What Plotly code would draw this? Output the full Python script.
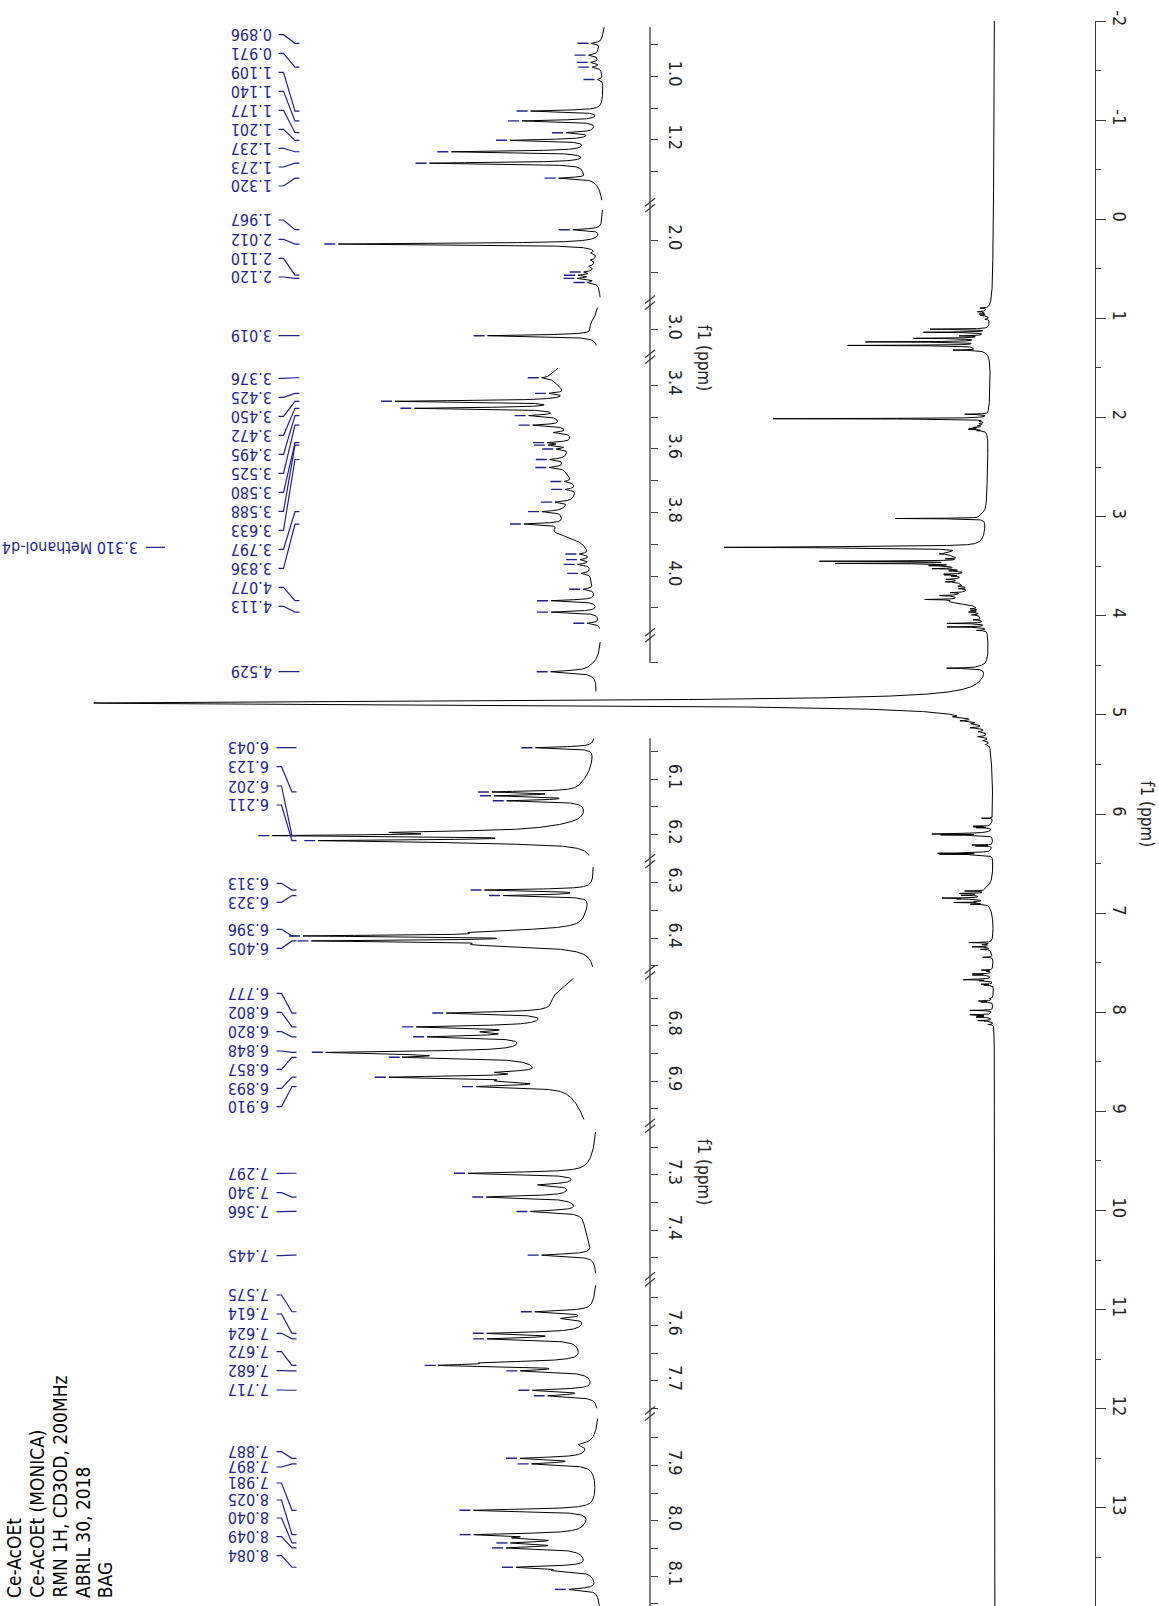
import numpy as np
import plotly.graph_objects as go

# ============================ DATA ============================
# sharp resonances: chemical shift (ppm), height (a.u.), half width at half height (ppm)
SHARP_PPM = [0.896, 0.933, 0.956, 0.971, 1.010, 1.109, 1.140, 1.177, 1.201, 1.237, 1.273, 1.320,
             1.967, 2.012, 2.040, 2.062, 2.082, 2.100, 2.110, 2.120, 2.133,
             3.019,
             3.294, 3.302, 3.310, 3.318, 3.326,
             3.376, 3.425, 3.450, 3.472, 3.495, 3.525, 3.548, 3.580, 3.588, 3.600, 3.633, 3.658,
             3.702, 3.727, 3.767, 3.797, 3.836, 3.930, 3.948, 3.963, 3.991, 4.041, 4.077, 4.113, 4.148,
             4.529, 4.880,
             5.020, 5.060, 5.090, 5.130, 5.170, 5.220, 5.260, 5.300,
             6.043, 6.123, 6.130, 6.139, 6.196, 6.202, 6.211, 6.215,
             6.313, 6.323, 6.389, 6.396, 6.405, 6.412,
             6.777, 6.802, 6.811, 6.820, 6.848, 6.852, 6.857, 6.884, 6.893, 6.900, 6.910,
             7.297, 7.318, 7.340, 7.366, 7.445,
             7.575, 7.587, 7.614, 7.624, 7.667, 7.672, 7.682, 7.717, 7.727,
             7.862, 7.887, 7.897, 7.981, 8.025, 8.031, 8.040, 8.049, 8.084, 8.090, 8.124]
SHARP_HEIGHT = [9, 9, 8, 8, 5, 70, 76, 26, 78, 135, 158, 32,
                28, 262, 5, 5, 5, 9, 15, 17, 9,
                108,
                20, 95, 265, 95, 20,
                10, 15, 170, 146, 28, 30, 15, 22, 20, 12, 14, 14,
                8, 10, 15, 20, 38, 9, 9, 12, 9, 10, 45, 47, 12,
                40, 1100,
                14, 18, 10, 16, 9, 12, 7, 5,
                13.5, 19.0, 18.3, 16.7, 34.7, 60.5, 50.8, 20.8,
                24.3, 19.6, 23.1, 55.0, 53.2, 23.1,
                24.0, 27.5, 9.2, 22.6, 41.6, 11.6, 24.3, 9.2, 36.0, 9.2, 19.0,
                26.6, 8.1, 20.0, 11.6, 12.0,
                12.7, 5.8, 20.8, 20.3, 18.5, 29.0, 13.9, 13.9, 10.4,
                2.8, 15.0, 12.7, 27.5, 23.1, 11.6, 13.9, 16.2, 16.2, 6.9, 6.5]
SHARP_HALFWIDTH = ([0.003] * 22 + [0.004] * 5 + [0.003] * 25 + [0.004, 0.025] + [0.006] * 8 +
                   [0.0018, 0.0018, 0.0018, 0.0018, 0.003, 0.0018, 0.0018, 0.003] +
                   [0.0018, 0.0018, 0.005, 0.0018, 0.0018, 0.005] +
                   [0.0025] * 11 + [0.0025] * 5 +
                   [0.0025, 0.0025, 0.0025, 0.0025, 0.003, 0.0025, 0.0025, 0.0025, 0.0025] +
                   [0.004] + [0.0025] * 10)

# broad underlying humps
BROAD_PPM = [0.93, 1.22, 1.30, 2.09, 2.985, 3.36, 3.38, 3.50, 3.65, 3.80, 3.86, 4.00, 4.52, 2.90,
             6.12, 6.19, 6.36, 6.745, 6.84, 7.33, 7.40, 7.63, 7.88, 8.04]
BROAD_HEIGHT = [8, 16, 14, 8, 8, 12, 30, 30, 30, 28, 30, 8, 10, 9,
                3.5, 8.1, 1.8, 4.6, 16.2, 5.8, 1.8, 4.6, 2.8, 4.6]
BROAD_HALFWIDTH = [0.05, 0.06, 0.03, 0.05, 0.03, 0.03, 0.05, 0.06, 0.07, 0.05, 0.025, 0.08, 0.025, 1.5,
                   0.03, 0.012, 0.04, 0.03, 0.07, 0.04, 0.04, 0.05, 0.03, 0.05]

# picked peaks printed as blue labels
LABEL_PPM_ALIPHATIC = [0.896, 0.971, 1.109, 1.140, 1.177, 1.201, 1.237, 1.273, 1.320,
                       1.967, 2.012, 2.110, 2.120, 3.019,
                       3.376, 3.425, 3.450, 3.472, 3.495, 3.525, 3.580, 3.588, 3.633, 3.797, 3.836,
                       4.077, 4.113, 4.529]
LABEL_PPM_AROMATIC = [6.043, 6.123, 6.202, 6.211, 6.313, 6.323, 6.396, 6.405,
                      6.777, 6.802, 6.820, 6.848, 6.857, 6.893, 6.910,
                      7.297, 7.340, 7.366, 7.445,
                      7.575, 7.614, 7.624, 7.672, 7.682, 7.717,
                      7.887, 7.897, 7.981, 8.025, 8.040, 8.049, 8.084]
# picked peaks that only carry a tick mark
MARK_ONLY_PPM = [0.933, 0.956, 1.010, 2.100, 2.133, 3.600, 3.658, 3.702, 3.727, 3.767,
                 3.930, 3.948, 3.963, 3.991, 4.041, 4.148, 6.130, 6.139, 7.727, 8.124]

SOLVENT_PPM = 3.310
SOLVENT_NAME = "Methanol-d4"
MAIN_TICKS = list(range(-2, 14))
TITLE_LINES = ["Ce-AcOEt", "Ce-AcOEt (MONICA)", "RMN 1H, CD3OD, 200MHz", "ABRIL 30, 2018", "BAG"]
AXIS_TITLE = "f1 (ppm)"

# ============================ LAYOUT (positions, styles) ============================
W, H = 1159, 1606
def px(x):
    return x / W
def py(y):
    return 1 - y / H

BLACK = "black"
BLUE = "#1f1f8f"
AXC = "#3a3a3a"
AX_FONT = "Liberation Sans Narrow, Arial Narrow, DejaVu Sans Condensed, sans-serif"
LB_FONT = "DejaVu Sans Condensed, DejaVu Sans, sans-serif"

MAIN_AXIS_PX = 1095
MAIN_ZERO_PX = 995
MAIN_PX_PER_U = 0.8165
INSET_AXIS_PX = 650

S_A = 318.0     # px per ppm, aliphatic inset
S_B = 553.0     # px per ppm, aromatic inset
A_ZERO_PX, A_PX_PER_U = 610.0, 1.0
B_ZERO_PX, B_PX_PER_U = 607.0, 4.327
A_AXIS_END_PX = 663.0

SEG_A = [(0.845, 1.390, 27.1), (1.905, 2.180, 210.0), (2.930, 3.050, 307.4),
         (3.345, 4.165, 367.9), (4.435, 4.592, 641.8)]
SEG_B = [(6.026, 6.238, 738.3), (6.271, 6.452, 866.8), (6.714, 6.970, 978.2),
         (7.222, 7.478, 1131.8), (7.527, 7.750, 1285.2), (7.815, 8.154, 1418.5)]

LABEL_Y_ALI_PX = [34.7, 53.3, 72.3, 91.3, 110.3, 129.3, 148.3, 167.0, 186.0,
                  220.0, 239.3, 258.3, 277.0, 335.7,
                  378.3, 397.3, 416.3, 435.3, 454.3, 473.3, 492.3, 511.3, 530.3, 549.3, 568.3,
                  587.3, 606.3, 671.7]
LABEL_Y_ARO_PX = [747.7, 766.7, 786.0, 805.0, 883.3, 902.3, 929.3, 948.3,
                  993.3, 1012.3, 1031.7, 1051.0, 1069.3, 1088.3, 1106.7,
                  1173.3, 1192.7, 1211.7, 1255.7,
                  1295.0, 1314.0, 1333.3, 1351.7, 1370.7, 1390.0,
                  1451.7, 1467.0, 1483.0, 1500.0, 1518.0, 1536.7, 1555.7]

# ============================ MODEL ============================
PPM = np.array(SHARP_PPM + BROAD_PPM, float)
AMP = np.array(SHARP_HEIGHT + BROAD_HEIGHT, float)
HWID = np.array(SHARP_HALFWIDTH + BROAD_HALFWIDTH, float)
assert len(PPM) == len(AMP) == len(HWID)


def spectrum(d):
    d = np.asarray(d, float)
    out = np.zeros_like(d)
    for p, a, w in zip(PPM, AMP, HWID):
        out += a * w * w / ((d - p) ** 2 + w * w)
    return out


def grid(lo, hi, step):
    g = np.arange(lo, hi + step / 2, step)
    extra = PPM[(PPM > lo) & (PPM < hi)]
    return np.unique(np.concatenate([g, extra]))


fig = go.Figure()
lay = {}
shapes = []
annotations = []

# ---------------- main spectrum ----------------
d_main = grid(-2.0, 13.99, 0.0005)
fig.add_trace(go.Scatter(x=spectrum(d_main), y=d_main, mode="lines",
                         line=dict(color=BLACK, width=1), xaxis="x", yaxis="y",
                         hoverinfo="skip", showlegend=False))
lay["xaxis"] = dict(domain=[0, px(MAIN_AXIS_PX)],
                    range=[MAIN_ZERO_PX / MAIN_PX_PER_U, -(MAIN_AXIS_PX - MAIN_ZERO_PX) / MAIN_PX_PER_U],
                    visible=False, anchor="y", automargin=False)
lay["yaxis"] = dict(domain=[0, py(21)], range=[13.99, -2], anchor="x", side="right",
                    showline=True, linecolor=AXC, linewidth=1.3, mirror=False, automargin=False,
                    tickmode="array", tickvals=MAIN_TICKS, ticktext=[str(t) for t in MAIN_TICKS],
                    ticks="outside", ticklen=10,
                    tickwidth=1.2, tickcolor=AXC, tickangle=90,
                    tickfont=dict(family=AX_FONT, size=18, color="#222"),
                    minor=dict(dtick=0.5, tick0=0, ticks="outside", ticklen=5, tickwidth=1.2, tickcolor=AXC),
                    showgrid=False, zeroline=False)
annotations.append(dict(x=px(1147), y=6.0, xref="paper", yref="y", text=AXIS_TITLE,
                        textangle=90, showarrow=False, xanchor="center", yanchor="middle",
                        font=dict(family=AX_FONT, size=17, color="#222")))

# ---------------- insets ----------------
all_marks = sorted(set(LABEL_PPM_ALIPHATIC + LABEL_PPM_AROMATIC + MARK_ONLY_PPM))


def build_inset(segs, s_px, zero_px, px_per_u, xname, y0idx, dtick, mdtick,
                labels, label_y, lab_right, conn_x, axis_end=None):
    xkey = "xaxis" + xname[1:]
    lay[xkey] = dict(domain=[0, px(INSET_AXIS_PX)],
                     range=[zero_px / px_per_u, -(INSET_AXIS_PX - zero_px) / px_per_u],
                     visible=False, anchor="free", position=0, automargin=False)
    seg_of = {}
    for k, (lo, hi, top) in enumerate(segs):
        yi = y0idx + k
        yname = "y%d" % yi
        bottom = top + (hi - lo) * s_px
        d = grid(lo, hi, 0.0002)
        fig.add_trace(go.Scatter(x=spectrum(d), y=d, mode="lines",
                                 line=dict(color=BLACK, width=1), xaxis=xname, yaxis=yname,
                                 hoverinfo="skip", showlegend=False))
        lay["yaxis%d" % yi] = dict(domain=[max(0.0, py(bottom)), py(top)], range=[hi, lo],
                                   anchor="free", position=px(INSET_AXIS_PX), side="right",
                                   showline=False, automargin=False,
                                   tickmode="linear", tick0=0, dtick=dtick,
                                   tickformat=".1f", ticks="outside", ticklen=7, tickwidth=1.2,
                                   tickcolor=AXC, tickangle=90, ticklabelstandoff=4,
                                   tickfont=dict(family=AX_FONT, size=18, color="#222"),
                                   minor=dict(dtick=mdtick, tick0=0, ticks="outside", ticklen=7,
                                              tickwidth=1.2, tickcolor=AXC),
                                   showgrid=False, zeroline=False)
        # tick marks next to peak tops
        mk = [p for p in all_marks if lo < p < hi]
        xs, ys = [], []
        if mk:
            tips = spectrum(mk)
            for p, t in zip(mk, tips):
                xs += [t + 3 / px_per_u, t + 14 / px_per_u, None]
                ys += [p, p, None]
            fig.add_trace(go.Scatter(x=xs, y=ys, mode="lines", line=dict(color=BLUE, width=1.4),
                                     xaxis=xname, yaxis=yname, hoverinfo="skip", showlegend=False))
        for p in labels:
            if lo <= p <= hi:
                seg_of[p] = (yname, lo, top)
    # labels + connectors
    for p, ly in zip(labels, label_y):
        yname, lo, top = seg_of[p]
        lp = lo + (ly - top) / s_px
        x0, x1, x2, x3 = [px(v) for v in conn_x]
        path = "M %.6f,%.6f L %.6f,%.6f L %.6f,%.6f L %.6f,%.6f" % (x0, lp, x1, lp, x2, p, x3, p)
        shapes.append(dict(type="path", path=path, xref="paper", yref=yname,
                           line=dict(color=BLUE, width=1.2)))
        annotations.append(dict(x=px(lab_right), y=py(ly), xref="paper", yref="paper",
                                text="%.3f" % p, textangle=180, showarrow=False,
                                xanchor="right", yanchor="middle",
                                font=dict(family=LB_FONT, size=16, color=BLUE)))
    # axis line and break marks
    first_top = segs[0][2]
    last_bottom = min(H, segs[-1][2] + (segs[-1][1] - segs[-1][0]) * s_px)
    if axis_end is not None:
        last_bottom = axis_end
    shapes.append(dict(type="line", xref="paper", yref="paper",
                       x0=px(INSET_AXIS_PX), x1=px(INSET_AXIS_PX),
                       y0=py(first_top), y1=py(last_bottom), line=dict(color=AXC, width=1.3)))
    for a, b in zip(segs[:-1], segs[1:]):
        yb = 0.5 * (a[2] + (a[1] - a[0]) * s_px + b[2])
        for off in (-3, 3):
            shapes.append(dict(type="line", xref="paper", yref="paper",
                               x0=px(INSET_AXIS_PX - 5), y0=py(yb + off + 4),
                               x1=px(INSET_AXIS_PX + 5), y1=py(yb + off - 4),
                               line=dict(color=AXC, width=1.2)))


build_inset(SEG_A, S_A, A_ZERO_PX, A_PX_PER_U, "x2", 2, 0.2, 0.1,
            LABEL_PPM_ALIPHATIC, LABEL_Y_ALI_PX, 274, (278.5, 283.5, 295, 299.5),
            axis_end=A_AXIS_END_PX)
build_inset(SEG_B, S_B, B_ZERO_PX, B_PX_PER_U, "x3", 2 + len(SEG_A), 0.1, 0.05,
            LABEL_PPM_AROMATIC, LABEL_Y_ARO_PX, 271, (276.5, 281.5, 292, 296.5))

annotations.append(dict(x=px(704), y=py(358), xref="paper", yref="paper", text=AXIS_TITLE,
                        textangle=90, showarrow=False, xanchor="center", yanchor="middle",
                        font=dict(family=AX_FONT, size=17, color="#222")))
annotations.append(dict(x=px(704), y=py(1172), xref="paper", yref="paper", text=AXIS_TITLE,
                        textangle=90, showarrow=False, xanchor="center", yanchor="middle",
                        font=dict(family=AX_FONT, size=17, color="#222")))

# solvent label
shapes.append(dict(type="line", xref="paper", yref="y", x0=px(146), x1=px(165),
                   y0=SOLVENT_PPM, y1=SOLVENT_PPM, line=dict(color=BLUE, width=1.2)))
annotations.append(dict(x=px(140), y=SOLVENT_PPM, xref="paper", yref="y",
                        text="%.3f %s" % (SOLVENT_PPM, SOLVENT_NAME), textangle=180,
                        showarrow=False, xanchor="right", yanchor="middle",
                        font=dict(family=LB_FONT, size=16, color=BLUE)))

# title block
for i, t in enumerate(TITLE_LINES):
    annotations.append(dict(x=px(14 + 22.8 * i), y=py(1600), xref="paper", yref="paper",
                            text=t, textangle=-90, showarrow=False, xanchor="center",
                            yanchor="bottom", font=dict(family=LB_FONT, size=19, color="black")))

fig.update_layout(width=W, height=H,
                  margin=dict(l=0, r=0, t=0, b=0, pad=0, autoexpand=False),
                  paper_bgcolor="white", plot_bgcolor="rgba(0,0,0,0)", showlegend=False,
                  shapes=shapes, annotations=annotations, **lay)
fig.write_html("out.html", config={"displayModeBar": False},
               post_script="document.body.style.margin='0px';document.body.style.overflow='hidden';")
